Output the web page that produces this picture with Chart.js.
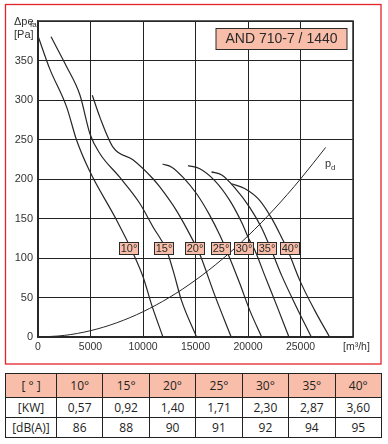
<!doctype html>
<html>
<head>
<meta charset="utf-8">
<title>AND 710-7 / 1440</title>
<script src="https://cdn.jsdelivr.net/npm/chart.js@4.4.1/dist/chart.umd.min.js"></script>
<style>
  body { margin: 0; background: #fff; }
  #wrap { position: relative; width: 388px; height: 444px; }
  #curves { position: absolute; left: 0; top: 0; }
  table { position: absolute; left: 5px; top: 373px; width: 377px; border-collapse: collapse;
          table-layout: fixed; font: 12px 'Open Sans', sans-serif; color: #222; }
  td { border: 1px solid #222; text-align: center; padding: 0; height: 19px; }
  td:first-child { width: 50px; }
  tr.head td { background: #f9bea9; height: 23px; }
</style>
</head>
<body>
<div id="wrap">
  <canvas id="curves" width="388" height="368"></canvas>
  <table id="specs"></table>
</div>
<script>
// flow [m3/h] and total pressure [Pa], one pair per blade angle
const flow10 = [0, 1100, 2730, 3680, 4880, 7480, 9060, 10010, 10840, 11900];
const press10 = [381, 340, 291, 249, 211, 148, 106, 76, 40, 0];

const flow15 = [1240, 2730, 4000, 4950, 5900, 7800, 9700, 10970, 12240, 12870, 13670, 15100];
const press15 = [380, 342, 306, 257, 232, 202, 169, 139, 110, 84, 46, 0];

const flow20 = [5170, 5900, 7160, 9070, 10970, 11600, 13190, 14770, 15400, 16830, 18400];
const press20 = [306, 278, 240, 224, 200, 190, 160, 122, 105, 53, 0];

const flow25 = [11860, 12740, 13820, 15120, 16360, 17310, 17940, 19210, 20160, 21300];
const press25 = [219, 215, 202, 181, 154, 129, 110, 68, 34, 0];

const flow30 = [14290, 15410, 16830, 18260, 19400, 20160, 20640, 21590, 22730, 23900];
const press30 = [217, 213, 198, 173, 145, 122, 110, 78, 40, 0];

const flow35 = [16520, 17500, 18730, 20160, 21300, 22220, 23200, 24540, 26030];
const press35 = [209, 205, 189, 164, 138, 110, 78, 40, 0];

const flow40 = [18420, 19680, 21110, 22350, 23200, 23780, 24920, 26340, 27770];
const press40 = [194, 188, 173, 148, 126, 110, 72, 34, 0];

// dynamic pressure pd
const flowPd = [0, 2500, 5000, 7500, 10000, 12500, 15000, 17500, 20000, 22500, 25000, 27400];
const pressPd = [0, 2, 8, 18, 32, 50, 72, 98, 128, 162, 200, 240];

// table below the chart
const angles = ['10°', '15°', '20°', '25°', '30°', '35°', '40°'];
const powerKw = ['0,57', '0,92', '1,40', '1,71', '2,30', '2,87', '3,60'];
const noiseDb = ['86', '88', '90', '91', '92', '94', '95'];

// where the angle tags sit on the curves (data units)
const tagFlow = [8620, 11950, 14860, 17360, 19590, 21800, 23950];
const tagPress = 112;

const toPoints = (xs, ys) => xs.map((q, i) => ({ x: q, y: ys[i] }));

const curve = (xs, ys, w) => ({
  data: toPoints(xs, ys),
  showLine: true,
  pointRadius: 0,
  borderColor: '#262626',
  borderWidth: w,
  cubicInterpolationMode: 'monotone',
});

const box = (ctx, x, y, w, h, text, font) => {
  ctx.fillStyle = '#f9bea9';
  ctx.fillRect(x, y, w, h);
  ctx.strokeStyle = '#2a2a2a';
  ctx.lineWidth = 1;
  ctx.strokeRect(x, y, w, h);
  ctx.fillStyle = '#2a2a2a';
  ctx.font = font;
  ctx.textAlign = 'center';
  ctx.textBaseline = 'middle';
  ctx.fillText(text, x + w / 2, y + h / 2 + 0.5);
};

const overlay = {
  id: 'overlay',
  afterDraw(chart) {
    const { ctx, chartArea: a, scales: { x, y } } = chart;
    ctx.save();
    ctx.strokeStyle = '#2a2a2a';
    ctx.lineWidth = 1.5;
    ctx.strokeRect(a.left, a.top, a.right - a.left, a.bottom - a.top);

    ctx.strokeStyle = '#e3242b';
    ctx.lineWidth = 1.3;
    ctx.strokeRect(5.5, 4.5, 375.5, 359.5);

    box(ctx, 216, 28.5, 131, 21, 'AND 710-7 / 1440', "14px 'Liberation Sans', sans-serif");

    angles.forEach((t, i) => {
      const cx = x.getPixelForValue(tagFlow[i]);
      const cy = y.getPixelForValue(tagPress);
      box(ctx, Math.round(cx - 9.5) + 0.5, Math.round(cy - 6.3) + 0.5, 19, 12, t, "11px 'Liberation Sans', sans-serif");
    });

    ctx.fillStyle = '#333';
    ctx.textAlign = 'left';
    ctx.textBaseline = 'alphabetic';
    ctx.font = "11px 'Liberation Sans', sans-serif";
    ctx.fillText('p', 325, 167);
    ctx.font = "8px 'Liberation Sans', sans-serif";
    ctx.fillText('d', 331, 170);

    ctx.font = "11px 'Liberation Sans', sans-serif";
    ctx.fillText('Δpe', 14, 25);
    ctx.font = "8px 'Liberation Sans', sans-serif";
    ctx.fillText('fa', 30, 27);
    ctx.font = "11px 'Liberation Sans', sans-serif";
    ctx.fillText('[Pa]', 14, 38);
    ctx.font = "10.5px 'Liberation Sans', sans-serif";
    ctx.fillText('[m³/h]', 343, 350);
    ctx.restore();
  }
};

new Chart(document.getElementById('curves'), {
  type: 'scatter',
  data: {
    datasets: [
      curve(flow10, press10, 1.2),
      curve(flow15, press15, 1.2),
      curve(flow20, press20, 1.2),
      curve(flow25, press25, 1.2),
      curve(flow30, press30, 1.2),
      curve(flow35, press35, 1.2),
      curve(flow40, press40, 1.2),
      curve(flowPd, pressPd, 1),
    ]
  },
  options: {
    responsive: false,
    animation: false,
    layout: { padding: { left: 0, top: 21, right: 35, bottom: 0 } },
    plugins: { legend: { display: false }, tooltip: { enabled: false } },
    scales: {
      x: {
        type: 'linear', min: 0, max: 30000,
        afterFit: (s) => { s.height = 31; },
        ticks: {
          stepSize: 5000, padding: 4, color: '#333', maxRotation: 0,
          font: { family: 'Liberation Sans', size: 10.5 },
          callback: (v) => (v === 30000 ? '' : String(v)),
        },
        grid: { color: '#222', lineWidth: 1, drawTicks: false },
        border: { color: '#222', width: 1.5 },
      },
      y: {
        min: 0, max: 400,
        afterFit: (s) => { s.width = 38; },
        ticks: {
          stepSize: 50, padding: 5, color: '#333',
          font: { family: 'Liberation Sans', size: 11 },
          callback: (v) => (v === 400 ? '' : String(v)),
        },
        grid: { color: '#222', lineWidth: 1, drawTicks: false },
        border: { color: '#222', width: 1.5 },
      }
    }
  },
  plugins: [overlay]
});

const rows = [['[ ° ]', ...angles], ['[KW]', ...powerKw], ['[dB(A)]', ...noiseDb]];
document.getElementById('specs').innerHTML = rows.map((r, i) =>
  '<tr' + (i === 0 ? ' class="head"' : '') + '>' + r.map((c) => '<td>' + c + '</td>').join('') + '</tr>'
).join('');
</script>
</body>
</html>
